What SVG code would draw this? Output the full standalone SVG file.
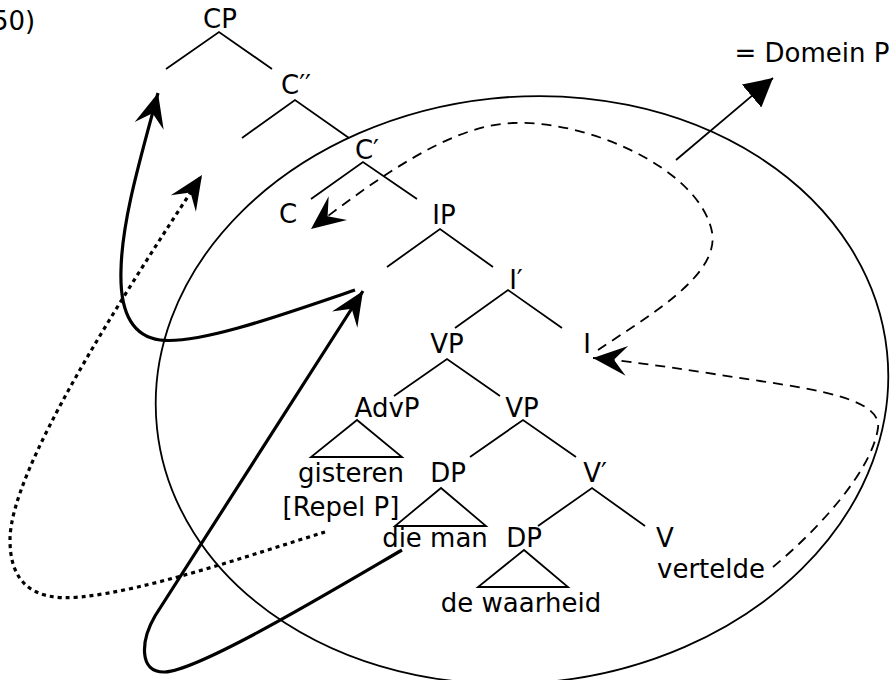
<svg xmlns="http://www.w3.org/2000/svg" width="893" height="680" viewBox="0 0 893 680">
  <style>
    text { font-family: "DejaVu Sans", "Liberation Sans", sans-serif; font-size: 26px; fill: #000; text-anchor: middle; }
    .branch { stroke: #000; stroke-width: 1.8; fill: none; stroke-linecap: butt; }
    .tri { stroke: #000; stroke-width: 1.8; fill: none; stroke-linejoin: miter; }
    .domain { stroke: #000; stroke-width: 1.8; fill: none; }
    .move-solid { stroke: #000; stroke-width: 3.2; fill: none; }
    .move-dotted { stroke: #000; stroke-width: 3.2; fill: none; stroke-dasharray: 4 4; }
    .move-dashed { stroke: #000; stroke-width: 1.8; fill: none; stroke-dasharray: 10 7; }
  </style>
  <defs>
    <marker id="barb" markerUnits="userSpaceOnUse" viewBox="0 0 38 32" markerWidth="38" markerHeight="32" refX="36" refY="16" orient="auto">
      <path d="M36,16 L2,1 L15,16 L2,31 Z" fill="#000" stroke="none"/>
    </marker>
    <marker id="tri-head" markerUnits="userSpaceOnUse" viewBox="0 0 30 30" markerWidth="30" markerHeight="30" refX="28" refY="15" orient="auto">
      <path d="M28,15 L0,0 L0,30 Z" fill="#000" stroke="none"/>
    </marker>
  </defs>

  <!-- example number -->
  <text id="label-num" x="-8" y="30" style="text-anchor:start">50)</text>

  <!-- domain P -->
  <g id="domain-p">
    <ellipse class="domain" cx="522" cy="390" rx="367" ry="293" transform="rotate(-6 522 390)"/>
    <path class="domain" d="M676,160 L773,78" marker-end="url(#tri-head)"/>
    <text x="812" y="62">= Domein P</text>
  </g>

  <!-- tree nodes -->
  <g id="node-cp"><text x="220" y="28">CP</text></g>
  <g id="node-c2"><text x="296" y="94">C′′</text></g>
  <g id="node-c1"><text x="367" y="159">C′</text></g>
  <g id="node-c"><text x="288" y="223">C</text></g>
  <g id="node-ip"><text x="444" y="224">IP</text></g>
  <g id="node-i1"><text x="516" y="289">I′</text></g>
  <g id="node-vp"><text x="447" y="353">VP</text></g>
  <g id="node-i"><text x="587" y="353">I</text></g>
  <g id="node-advp">
    <text x="387" y="417">AdvP</text>
    <path class="tri" d="M357,420 L311,457 L402,457 Z"/>
    <text x="351" y="482">gisteren</text>
    <text x="341" y="516">[Repel P]</text>
  </g>
  <g id="node-vp2"><text x="522" y="417">VP</text></g>
  <g id="node-dp"><text x="448" y="482">DP</text>
    <path class="tri" d="M441,488 L395,526 L486,526 Z"/>
    <text x="435" y="547">die man</text>
  </g>
  <g id="node-v1"><text x="595" y="482">V′</text></g>
  <g id="node-dp2"><text x="524" y="547">DP</text>
    <path class="tri" d="M524,550 L478,587 L568,587 Z"/>
    <text x="521" y="612">de waarheid</text>
  </g>
  <g id="node-v"><text x="665" y="547">V</text>
    <text x="711" y="578">vertelde</text>
  </g>

  <g id="connectors">
    <!-- tree branches -->
    <g id="branches">
      <path class="branch" d="M166,69 L219,32 L272,69"/>
      <path class="branch" d="M242,138 L295,100 L349,138"/>
      <path class="branch" d="M311,199 L363,162 L417,199"/>
      <path class="branch" d="M387,267 L440,229 L493,267"/>
      <path class="branch" d="M455,328 L508,290 L562,328"/>
      <path class="branch" d="M394,396 L447,359 L500,396"/>
      <path class="branch" d="M470,457 L523,420 L576,457"/>
      <path class="branch" d="M538,526 L592,488 L645,526"/>
    </g>
    <!-- movement arrows -->
    <g id="movement">
      <path class="move-dashed" d="M773,567 C820,528 872,470 878,428 C882,400 820,390 760,381 C700,372 640,362 593,358" marker-end="url(#barb)"/>
      <path class="move-dashed" d="M598,350 C650,315 720,275 712,232 C700,170 590,120 513,123 C460,125 400,160 311,229" marker-end="url(#barb)"/>
      <path class="move-solid" d="M402,550 C330,592 200,670 165,672 C138,673 141,640 155,616 L363,291" marker-end="url(#barb)"/>
      <path class="move-solid" d="M355,290 C290,312 200,345 160,340 C125,335 120,300 121,270 C122,220 140,160 158,93" marker-end="url(#barb)"/>
      <path class="move-dotted" d="M325,532 C250,555 150,590 80,597 C30,602 10,580 10,540 C10,470 120,300 202,175" marker-end="url(#barb)"/>
    </g>
  </g>
</svg>
